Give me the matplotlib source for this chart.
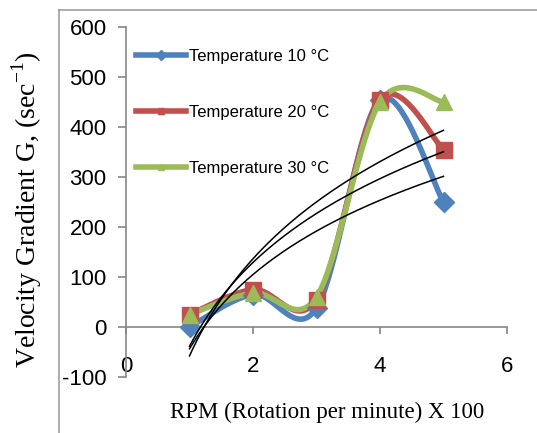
import numpy as np
import matplotlib
matplotlib.use("Agg")
import matplotlib.pyplot as plt
from matplotlib.lines import Line2D

plt.rcParams["axes.unicode_minus"] = False

# ---- data ----
rpm = [1, 2, 3, 4, 5]
g_10 = [0, 65, 38, 455, 250]
g_20 = [25, 75, 55, 455, 355]
g_30 = [25, 68, 60, 450, 450]
labels = ["Temperature 10 \u00b0C", "Temperature 20 \u00b0C", "Temperature 30 \u00b0C"]
colors = ["#4F81BD", "#C0504D", "#9BBB59"]
markers = ["D", "s", "^"]
xticks = [0, 2, 4, 6]
yticks = [-100, 0, 100, 200, 300, 400, 500, 600]


def excel_smooth(x, y, n=40):
    x = np.asarray(x, float)
    y = np.asarray(y, float)
    P = np.column_stack([x, y])
    out = []
    for i in range(len(P) - 1):
        p0 = P[i - 1] if i > 0 else P[i]
        p1 = P[i]
        p2 = P[i + 1]
        p3 = P[i + 2] if i + 2 < len(P) else P[i + 1]
        c1 = p1 + (p2 - p0) / 6.0
        c2 = p2 - (p3 - p1) / 6.0
        t = np.linspace(0, 1, n)[:, None]
        seg = ((1 - t) ** 3) * p1 + 3 * ((1 - t) ** 2) * t * c1 + 3 * (1 - t) * t ** 2 * c2 + t ** 3 * p2
        out.append(seg if i == 0 else seg[1:])
    s = np.vstack(out)
    return s[:, 0], s[:, 1]


W, H = 537, 433
fig = plt.figure(figsize=(W / 100, H / 100), dpi=100)
ax = fig.add_axes([126 / W, 1 - 377 / H, (507 - 126) / W, (377 - 27) / H])

# outer chart-area frame
fig.add_artist(Line2D([59 / W, 1.0], [1 - 10 / H, 1 - 10 / H], transform=fig.transFigure,
                      color="#A0A0A0", lw=1.2))
fig.add_artist(Line2D([59 / W, 59 / W], [1 - 10 / H, 0], transform=fig.transFigure,
                      color="#A0A0A0", lw=1.2))

series = [g_10, g_20, g_30]
ms = [10, 11, 12]
for ys, c, m, lab, s in zip(series, colors, markers, labels, ms):
    sx, sy = excel_smooth(rpm, ys)
    ax.plot(sx, sy, color=c, lw=4, solid_capstyle="round", zorder=2)
    ax.plot(rpm, ys, linestyle="none", marker=m, color=c, markersize=s, zorder=3)

# logarithmic trendlines
xt = np.linspace(1, 5, 200)
for ys in series:
    a, b = np.polyfit(np.log(rpm), ys, 1)
    ax.plot(xt, a * np.log(xt) + b, color="black", lw=1.1, zorder=4)

ax.set_xlim(0, 6)
ax.set_ylim(-100, 600)
ax.set_xticks(xticks)
ax.set_yticks(yticks)
ax.spines["top"].set_visible(False)
ax.spines["right"].set_visible(False)
ax.spines["bottom"].set_position(("data", 0))
for sp in ("left", "bottom"):
    ax.spines[sp].set_color("#868686")
    ax.spines[sp].set_linewidth(1.2)
ax.tick_params(axis="y", direction="out", length=6, width=1.2, color="#868686", pad=8,
               labelsize=16)
ax.tick_params(axis="x", direction="out", length=5, width=1.2, color="#868686", pad=16,
               labelsize=16)
for lab in ax.get_xticklabels() + ax.get_yticklabels():
    lab.set_family("Liberation Sans")

fig.text(327 / W, 1 - 412 / H, "RPM (Rotation per minute) X 100", family="Liberation Serif",
         fontsize=16.5, ha="center", va="center")
fig.text(27 / W, 1 - 210 / H, r"Velocity Gradient G, (sec$^{\mathregular{-1}}$)",
         family="Liberation Serif", fontsize=20, rotation=90, ha="center", va="center")

handles = [Line2D([], [], color=c, lw=4, marker=m, markersize=5) for c, m in zip(colors, markers)]
leg = ax.legend(handles, labels, loc="upper left", bbox_to_anchor=(0.0, 0.965), frameon=False,
                prop={"family": "Liberation Sans", "size": 12}, handlelength=3.0,
                handletextpad=0.2, labelspacing=2.45, borderaxespad=0.2)

fig.savefig("out.png", dpi=100)
